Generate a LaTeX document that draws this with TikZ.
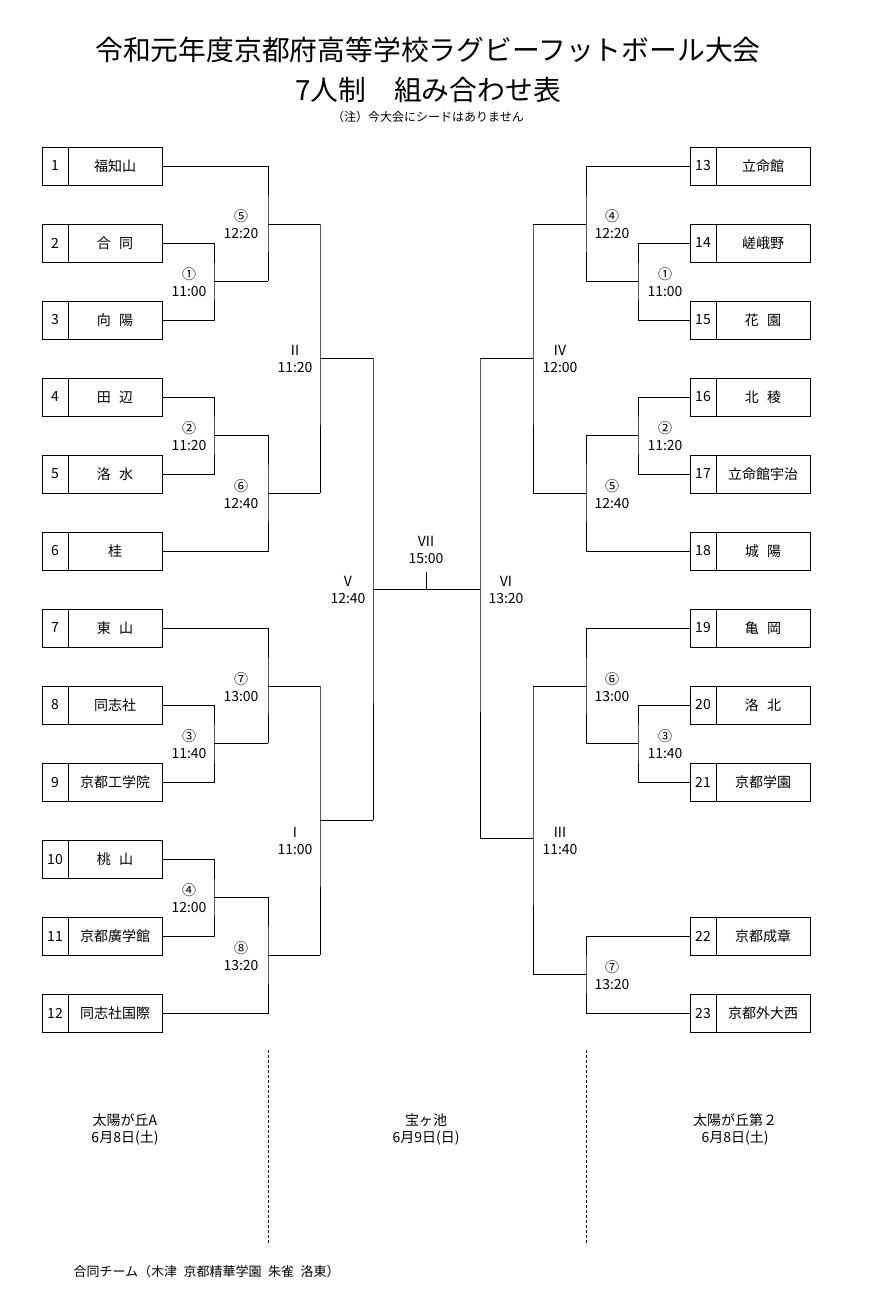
\documentclass[tikz,border=0pt]{standalone}
\usepackage{fontspec}
\setmainfont{Noto Sans CJK JP}
\begin{document}
\begin{tikzpicture}[x=1pt,y=-1pt,
  box/.style={draw,line width=0.8pt,minimum width=120pt,minimum height=38pt,inner sep=0pt},
  num/.style={font=\fontsize{14}{14}\selectfont},
  team/.style={font=\fontsize{14}{14}\selectfont},
  lab/.style={font=\fontsize{14}{17}\selectfont,align=center},
  ln/.style={line width=0.8pt}]
\useasboundingbox (0,0) rectangle (874,1308);
\fill[white] (0,0) rectangle (874,1308);
\node[font=\fontsize{27.8}{30}\selectfont] (t1) at (428,50) {令和元年度京都府高等学校ラグビーフットボール大会};
\node[font=\fontsize{27.8}{30}\selectfont] (t2) at (428,90) {7人制\hspace{1em}組み合わせ表};
\node[font=\fontsize{12}{13}\selectfont] (t3) at (428,117) {（注）今大会にシードはありません};
% left boxes
\foreach \i/\y/\n in {1/166/福知山,2/243/合\hspace{0.6em}同,3/320/向\hspace{0.6em}陽,4/397/田\hspace{0.6em}辺,5/474/洛\hspace{0.6em}水,6/551/桂,7/628/東\hspace{0.6em}山,8/705/同志社,9/782/京都工学院,10/859/桃\hspace{0.6em}山,11/936/京都廣学館,12/1013/同志社国際}{
  \node[box] (L\i) at (102,\y) {};
  \draw[ln] (68,\y-19) -- (68,\y+19);
  \node[num] (Ln\i) at (55,\y) {\i};
  \node[team] (Lt\i) at (115,\y) {\n};
}
\foreach \i/\y/\n in {13/166/立命館,14/243/嵯峨野,15/320/花\hspace{0.6em}園,16/397/北\hspace{0.6em}稜,17/474/立命館宇治,18/551/城\hspace{0.6em}陽,19/628/亀\hspace{0.6em}岡,20/705/洛\hspace{0.6em}北,21/782/京都学園,22/936/京都成章,23/1013/京都外大西}{
  \node[box] (R\i) at (750,\y) {};
  \draw[ln] (716,\y-19) -- (716,\y+19);
  \node[num] (Rn\i) at (703,\y) {\i};
  \node[team] (Rt\i) at (763,\y) {\n};
}
% left coordinates
\coordinate (a1) at (214,281); \coordinate (a1o) at (268,281);
\coordinate (a5) at (268,224); \coordinate (a5o) at (320,224);
\coordinate (a2) at (214,435); \coordinate (a2o) at (268,435);
\coordinate (a6) at (268,493); \coordinate (a6o) at (320,493);
\coordinate (aII) at (320,358); \coordinate (aIIo) at (373,358);
\coordinate (a3) at (214,743); \coordinate (a3o) at (268,743);
\coordinate (a7) at (268,686); \coordinate (a7o) at (320,686);
\coordinate (a4) at (214,897); \coordinate (a4o) at (268,897);
\coordinate (a8) at (268,955); \coordinate (a8o) at (320,955);
\coordinate (aI) at (320,820); \coordinate (aIo) at (373,820);
\coordinate (aV) at (373,589);
\coordinate (fin) at (426,589); \coordinate (fint) at (426,572);
\coordinate (bVI) at (480,589);
\draw[ln] (L2.east) -| (a1) |- (L3.east); \draw[ln] (a1) -- (a1o);
\draw[ln] (L1.east) -| (a5) |- (a1o); \draw[ln] (a5) -- (a5o);
\draw[ln] (L4.east) -| (a2) |- (L5.east); \draw[ln] (a2) -- (a2o);
\draw[ln] (L6.east) -| (a6) |- (a2o); \draw[ln] (a6) -- (a6o);
\draw[ln] (a5o) -- (aII) -- (a6o); \draw[ln] (aII) -- (aIIo);
\draw[ln] (L8.east) -| (a3) |- (L9.east); \draw[ln] (a3) -- (a3o);
\draw[ln] (L7.east) -| (a7) |- (a3o); \draw[ln] (a7) -- (a7o);
\draw[ln] (L10.east) -| (a4) |- (L11.east); \draw[ln] (a4) -- (a4o);
\draw[ln] (L12.east) -| (a8) |- (a4o); \draw[ln] (a8) -- (a8o);
\draw[ln] (a7o) -- (aI) -- (a8o); \draw[ln] (aI) -- (aIo);
\draw[ln] (aIIo) -- (aV) -- (aIo);
% right coordinates
\coordinate (b1) at (638,281); \coordinate (b1o) at (586,281);
\coordinate (b4) at (586,224); \coordinate (b4o) at (533,224);
\coordinate (b2) at (638,435); \coordinate (b2o) at (586,435);
\coordinate (b5) at (586,493); \coordinate (b5o) at (533,493);
\coordinate (bIV) at (533,358); \coordinate (bIVo) at (480,358);
\coordinate (b3) at (638,743); \coordinate (b3o) at (586,743);
\coordinate (b6) at (586,686); \coordinate (b6o) at (533,686);
\coordinate (b7) at (586,974); \coordinate (b7o) at (533,974);
\coordinate (bIII) at (533,838); \coordinate (bIIIo) at (480,838);
\draw[ln] (R14.west) -| (b1) |- (R15.west); \draw[ln] (b1) -- (b1o);
\draw[ln] (R13.west) -| (b4) |- (b1o); \draw[ln] (b4) -- (b4o);
\draw[ln] (R16.west) -| (b2) |- (R17.west); \draw[ln] (b2) -- (b2o);
\draw[ln] (R18.west) -| (b5) |- (b2o); \draw[ln] (b5) -- (b5o);
\draw[ln] (b4o) -- (bIV) -- (b5o); \draw[ln] (bIV) -- (bIVo);
\draw[ln] (R20.west) -| (b3) |- (R21.west); \draw[ln] (b3) -- (b3o);
\draw[ln] (R19.west) -| (b6) |- (b3o); \draw[ln] (b6) -- (b6o);
\draw[ln] (R22.west) -| (b7) |- (R23.west); \draw[ln] (b7) -- (b7o);
\draw[ln] (b6o) -- (bIII) -- (b7o); \draw[ln] (bIII) -- (bIIIo);
\draw[ln] (bIVo) -- (bVI) -- (bIIIo);
\draw[ln] (aV) -- (bVI); \draw[ln] (fin) -- (fint);
% labels
\node[lab] (l5) at (241,224) {⑤\\12:20};
\node[lab] (l1) at (189,282) {①\\11:00};
\node[lab] (l2) at (189,436) {②\\11:20};
\node[lab] (l6) at (241,494) {⑥\\12:40};
\node[lab] (lII) at (295,359) {II\\11:20};
\node[lab] (l7) at (241,687) {⑦\\13:00};
\node[lab] (l3) at (189,744) {③\\11:40};
\node[lab] (l4) at (189,898) {④\\12:00};
\node[lab] (l8) at (241,956) {⑧\\13:20};
\node[lab] (lI) at (295,841) {I\\11:00};
\node[lab] (lV) at (348,590) {V\\12:40};
\node[lab] (lVII) at (426,550) {VII\\15:00};
\node[lab] (lVI) at (506,590) {VI\\13:20};
\node[lab] (r4) at (612,224) {④\\12:20};
\node[lab] (r1) at (665,282) {①\\11:00};
\node[lab] (rIV) at (560,359) {IV\\12:00};
\node[lab] (r2) at (665,436) {②\\11:20};
\node[lab] (r5) at (612,494) {⑤\\12:40};
\node[lab] (r6) at (612,687) {⑥\\13:00};
\node[lab] (r3) at (665,744) {③\\11:40};
\node[lab] (rIII) at (560,841) {III\\11:40};
\node[lab] (r7) at (612,975) {⑦\\13:20};
% venues
\draw[ln,dash pattern=on 3pt off 2pt,line width=0.6pt] (268,1050) -- (268,1245);
\draw[ln,dash pattern=on 3pt off 2pt,line width=0.6pt] (586,1050) -- (586,1245);
\node[lab] (v1) at (125,1129) {太陽が丘A\\6月8日(土)};
\node[lab] (v2) at (426,1129) {宝ヶ池\\6月9日(日)};
\node[lab] (v3) at (735,1129) {太陽が丘第２\\6月8日(土)};
\node[font=\fontsize{13}{14}\selectfont,anchor=west] (ft) at (70,1272) {合同チーム（木津\hspace{0.5em}京都精華学園\hspace{0.5em}朱雀\hspace{0.5em}洛東）};
\end{tikzpicture}
\end{document}
